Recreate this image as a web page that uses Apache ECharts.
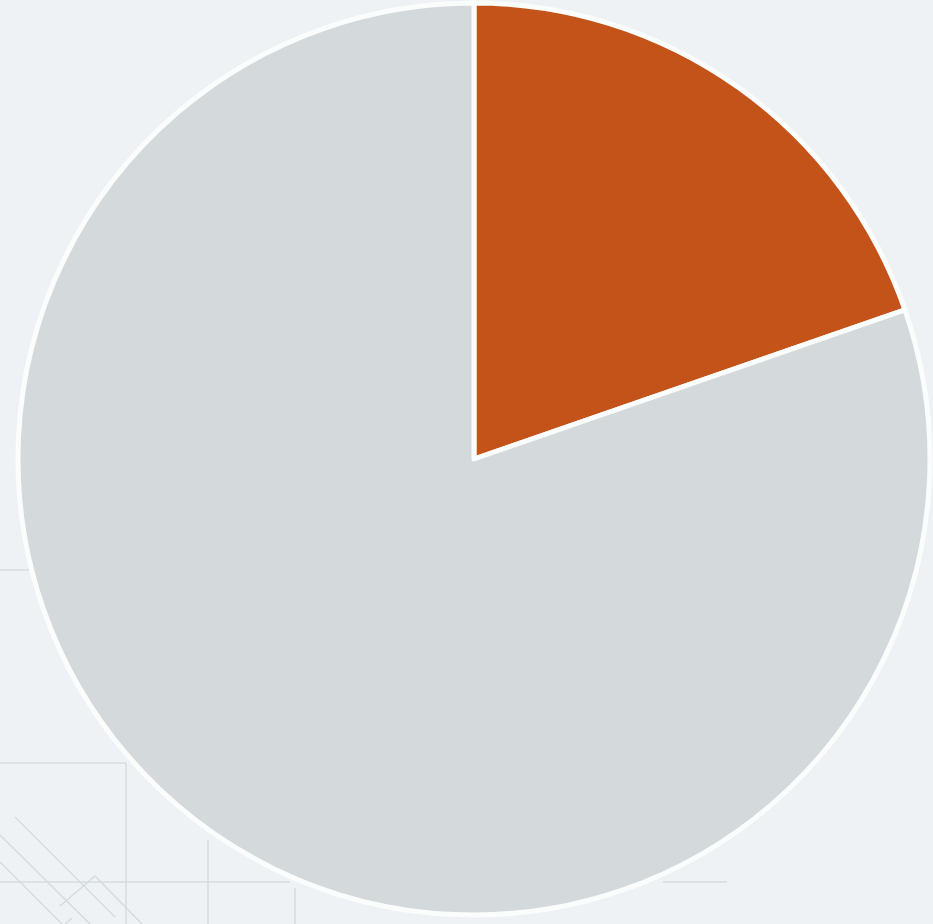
<!DOCTYPE html>
<html>
<head>
<meta charset="utf-8">
<script src="https://cdn.jsdelivr.net/npm/echarts@6/dist/echarts.min.js"></script>
<style>
html,body{margin:0;padding:0;background:#eef2f4;}
#c{width:933px;height:924px;}
</style>
</head>
<body>
<div id="c"></div>
<script>
const categories = ['Share', 'Rest'];
const values = [19.7, 80.3];
const colors = ['#c4531a', '#d4d9dc'];

const chart = echarts.init(document.getElementById('c'));
const lineStyle = {stroke: '#d6dbde', lineWidth: 1.5};
function ln(x1,y1,x2,y2){return {type:'line', shape:{x1,y1,x2,y2}, style: lineStyle, z: 0, silent: true};}
chart.setOption({
  backgroundColor: '#eef2f4',
  animation: false,
  graphic: [
    ln(0,570,30,570),
    ln(0,763,126,763),
    ln(126,763,126,924),
    ln(0,882,290,882),
    ln(208,840,208,924),
    ln(295,888,295,924),
    ln(663,882,727,882),
    ln(15,817,115,917),
    ln(0,835,90,924),
    ln(0,862,62,924),
    ln(60,906,95,876),
    ln(95,876,142,924),
    ln(65,924,72,918)
  ],
  series: [{
    type: 'pie',
    center: [474, 459],
    radius: [0, 456],
    startAngle: 90,
    clockwise: true,
    label: {show: false},
    labelLine: {show: false},
    emphasis: {disabled: true},
    itemStyle: {borderColor: '#fbfcfc', borderWidth: 5},
    data: categories.map((n, i) => ({name: n, value: values[i], itemStyle: {color: colors[i]}}))
  }]
});
</script>
</body>
</html>
